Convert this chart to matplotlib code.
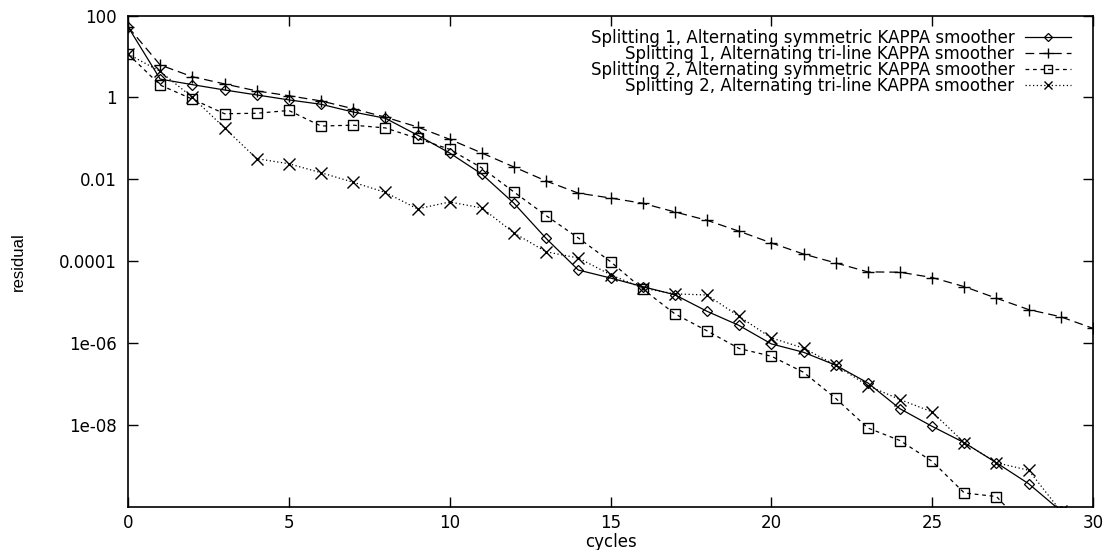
import matplotlib
matplotlib.use("Agg")
import matplotlib.pyplot as plt

# cycles
cycles = list(range(0, 31))

# residuals (log scale)
s1_sym = [53, 2.8, 2.05, 1.52, 1.15, 0.87, 0.68, 0.44, 0.31, 0.12, 0.044,
          0.0134, 0.0026, 3.6e-4, 6.1e-5, 3.9e-5, 2.4e-5, 1.52e-5, 6.0e-6,
          2.7e-6, 9.6e-7, 6.0e-7, 2.9e-7, 1.07e-7, 2.5e-8, 9.3e-9, 3.7e-9,
          1.2e-9, 3.7e-10, 8e-11]
s1_tri = [53, 6.2, 3.2, 2.14, 1.44, 1.1, 0.82, 0.53, 0.33, 0.19, 0.095,
          0.044, 0.02, 0.0091, 0.0046, 0.0035, 0.0026, 0.0016, 0.001,
          5.4e-4, 2.8e-4, 1.5e-4, 9.1e-5, 5.5e-5, 5.4e-5, 4.0e-5, 2.4e-5,
          1.25e-5, 6.6e-6, 4.4e-6, 2.3e-6]
s2_sym = [11.5, 2.0, 0.91, 0.40, 0.41, 0.48, 0.2, 0.21, 0.18, 0.1, 0.054,
          0.019, 0.0049, 0.0013, 3.7e-4, 9.8e-5, 2.1e-5, 5.2e-6, 2.0e-6,
          7.4e-7, 4.8e-7, 1.95e-7, 4.5e-8, 8.5e-9, 4.2e-9, 1.3e-9, 2.2e-10,
          1.8e-10, 2.6e-11]
s2_tri = [11.5, 4.3, 1.01, 0.18, 0.032, 0.024, 0.0145, 0.0085, 0.0048,
          0.0019, 0.0028, 0.002, 4.9e-4, 1.7e-4, 1.2e-4, 4.7e-5, 2.2e-5,
          1.6e-5, 1.5e-5, 4.5e-6, 1.34e-6, 7.6e-7, 2.9e-7, 9.2e-8, 4.2e-8,
          2.1e-8, 3.7e-9, 1.2e-9, 7.9e-10, 7.9e-11]

labels = ["Splitting 1, Alternating symmetric KAPPA smoother",
          "Splitting 1, Alternating tri-line KAPPA smoother",
          "Splitting 2, Alternating symmetric KAPPA smoother",
          "Splitting 2, Alternating tri-line KAPPA smoother"]

ytick_vals = [1e2, 1e0, 1e-2, 1e-4, 1e-6, 1e-8]
ytick_labels = ["100", "1", "0.01", "0.0001", "1e-06", "1e-08"]
xtick_vals = [0, 5, 10, 15, 20, 25, 30]

plt.rcParams['font.family'] = ['DejaVu Sans']

fig = plt.figure(figsize=(11.09, 5.5), dpi=100)
ax = fig.add_axes([128 / 1109, 1 - 507 / 550, (1093 - 128) / 1109, (507 - 15.5) / 550])

lw = 0.9
ax.plot(cycles[:len(s1_sym)], s1_sym, color='black', lw=lw, linestyle='-',
        marker='D', markersize=5.5, markerfacecolor='none', markeredgewidth=0.9,
        label=labels[0])
ax.plot(cycles[:len(s1_tri)], s1_tri, color='black', lw=lw, linestyle=(0, (7, 4)),
        marker='+', markersize=9, markeredgewidth=1.0, label=labels[1])
ax.plot(cycles[:len(s2_sym)], s2_sym, color='black', lw=lw, linestyle=(0, (3, 3)),
        marker='s', markersize=7, markerfacecolor='none', markeredgewidth=1.0,
        label=labels[2])
ax.plot(cycles[:len(s2_tri)], s2_tri, color='black', lw=lw, linestyle=(0, (1, 2)),
        marker='x', markersize=8, markeredgewidth=1.0, label=labels[3])

ax.set_yscale('log')
ax.set_xlim(0, 30)
ax.set_ylim(1e-10, 100)
ax.set_yticks(ytick_vals)
ax.set_yticklabels(ytick_labels)
ax.yaxis.set_minor_locator(matplotlib.ticker.NullLocator())
ax.set_xticks(xtick_vals)
ax.set_xticklabels([str(v) for v in xtick_vals])

ax.tick_params(direction='in', length=7, width=1, top=True, right=True,
               labelsize=12, pad=8)
ax.tick_params(axis='x', pad=5)
for sp in ax.spines.values():
    sp.set_linewidth(1.2)

ax.set_xlabel('cycles', fontsize=12, labelpad=1)
ax.set_ylabel('residual', fontsize=12, labelpad=24,
              family=['Liberation Sans Narrow', 'Liberation Sans'])

leg = ax.legend(loc='upper right', frameon=False, markerfirst=False,
                fontsize=12, handlelength=2.75, handletextpad=0.65,
                labelspacing=-0.12, borderpad=0, borderaxespad=0,
                numpoints=1, markerscale=0.8,
                bbox_to_anchor=((1071 - 128) / 965, 1 - (29 - 15.5) / 491.5))

fig.savefig('out.png', dpi=100)
